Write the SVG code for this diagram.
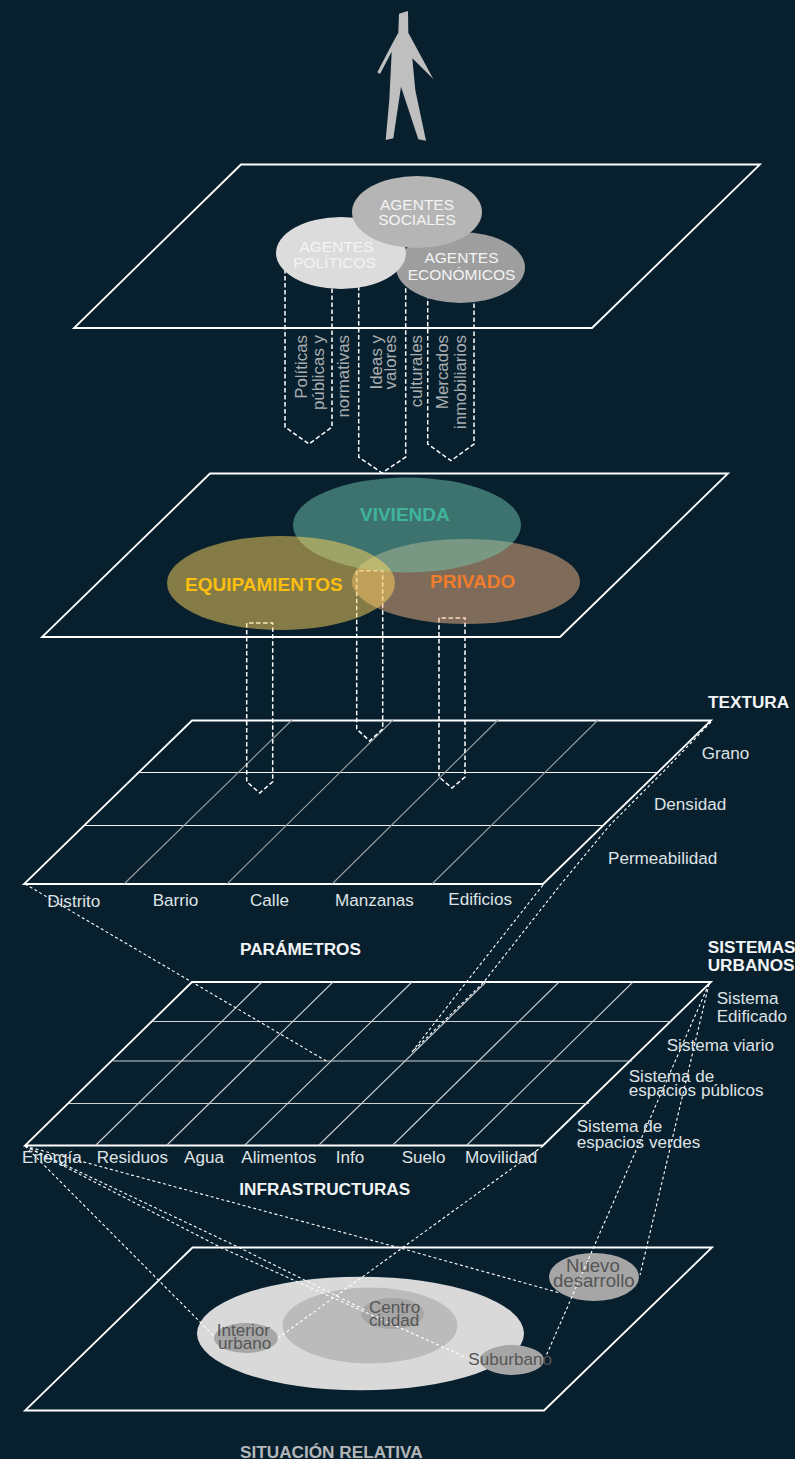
<svg xmlns="http://www.w3.org/2000/svg" width="795" height="1459" viewBox="0 0 795 1459">
<style>
text{font-family:"Liberation Sans",Arial,sans-serif}
.plane{fill:none;stroke:#fff;stroke-width:1.8;stroke-linejoin:miter}
.h{stroke:#f4f4f4;stroke-width:1.2;fill:none}
.h4{stroke:#cfd2d3;stroke-width:1.2;fill:none}
.d3{stroke:#9a9fa2;stroke-width:1.1;fill:none}
.d4{stroke:#cbcfd1;stroke-width:1.1;fill:none}
.arrow{fill:none;stroke:#fff;stroke-width:1.5;stroke-dasharray:4.5 2.5}
.thin{fill:none;stroke:#fff;stroke-width:1.1;stroke-dasharray:3 2.5}
.lab{font-size:17.1px;fill:#dfe3e5}
.head{font-size:17.2px;font-weight:bold;fill:#f2f4f5}
.rot{font-size:16.9px;fill:#a9aeb1;text-anchor:end}
.ag{font-size:15.5px;fill:#f4f4f4;text-anchor:middle}
.big{font-size:19px;font-weight:bold}
.sit{font-size:17.1px;fill:#555}
</style>
<rect width="795" height="1459" fill="#08202e"/>
<g id="persona"><polygon points="399,13.7 408,11 408.3,32.7 433.3,79 412.3,58.3 415.3,90 426,140.7 418.3,139.3 401,86.7 393.3,138.3 385.7,140 389.3,100 391.7,51.7 380,74 377.3,72.3 393.3,41.7 398.3,32.7" fill="#bfbfbf"/></g>
<g id="plano-agentes"><polygon class="plane" points="241,164.500 760,164.500 592,328 74,328"/></g>
<g id="plano-usos"><polygon class="plane" points="210,473.500 728,473.500 560,637 42,637"/></g>
<g id="plano-textura">
<polygon class="plane" points="192,720.500 711,720.500 543,884 24,884"/>
<path class="h" d="M137,772.500H657M84,825.500H604"/>
<path class="d3" d="M124,884L292,720M227,884L393,720M332,884L498,720M432,884L598,720"/>
</g>
<g id="plano-sistemas">
<polygon class="plane" points="192,982 711,982 543,1145.500 25,1145.500"/>
<path class="h4" d="M153,1021.500H672M113,1061H632M69,1103.500H589"/>
<path class="d4" d="M96,1145L262,982M167,1145L333,982M245,1145L412,982M319,1145L486,982M393,1145L559,982M467,1145L633,982"/>
</g>
<g id="plano-situacion"><polygon class="plane" points="192.500,1247.500 712,1247.500 544,1410.500 25,1410.500"/></g>
<g id="ciudad">
<ellipse cx="360.500" cy="1333.500" rx="163.500" ry="56.800" fill="#d9d9d9"/>
<ellipse cx="370" cy="1325.500" rx="87.500" ry="38" fill="#bbbbbb"/>
</g>
<g id="centro"><ellipse cx="392.500" cy="1313.500" rx="31.500" ry="15.500" fill="#a6a6a6"/></g>
<g id="interior"><ellipse cx="246" cy="1338" rx="32" ry="15" fill="#a6a6a6"/></g>
<g id="suburbano"><ellipse cx="512" cy="1360" rx="32" ry="15" fill="#a6a6a6"/></g>
<g id="nuevo"><ellipse cx="594" cy="1277" rx="45" ry="24" fill="#a6a6a6"/></g>
<g id="connectors">
<path class="arrow" d="M285,262V427L309,444L332,427V262Z"/>
<path class="arrow" d="M358.700,265V457L382,473L405.700,457V265Z"/>
<path class="arrow" d="M427.700,280V444L451,460.700L474,444V280Z"/>
<path class="arrow" d="M246.700,623V781.700L259.700,793L272.700,781.700V623Z"/>
<path class="arrow" d="M356.700,570.700V729L369.700,741L382.700,729V570.700Z"/>
<path class="arrow" d="M439,618V777L452,788L465,777V618Z"/>
<path class="thin" d="M25,884L328,1062"/>
<path class="thin" d="M543,885L468,980L412,1052"/>
<path class="thin" d="M711,722L663,772L610,825L561,884L483,983L412,1052"/>
<path class="thin" d="M25,1146L215,1337"/>
<path class="thin" d="M25,1146L220,1247L467,1358"/>
<path class="thin" d="M25,1146L238,1247L367,1311"/>
<path class="thin" d="M25,1146L400,1248L560,1293"/>
<path class="thin" d="M709,984L640,1275"/>
<path class="thin" d="M709,984L546,1356"/>
<path class="thin" d="M543,1146L278,1338"/>
</g>
<g id="agentes-economicos"><ellipse cx="460.500" cy="267.500" rx="64.500" ry="35.500" fill="#9e9e9e"/><text class="ag" x="461.500" y="262.500">AGENTES</text><text class="ag" x="461.500" y="279.500">ECONÓMICOS</text></g>
<g id="agentes-politicos"><ellipse cx="341" cy="253" rx="65" ry="36" fill="#dcdcdc"/><text class="ag" x="336.500" y="252">AGENTES</text><text class="ag" x="334.500" y="267.500">POLÍTICOS</text></g>
<g id="agentes-sociales"><ellipse cx="417" cy="212" rx="65" ry="36" fill="#b5b5b5"/><text class="ag" x="417" y="210">AGENTES</text><text class="ag" x="417" y="225">SOCIALES</text></g>
<g id="privado"><ellipse cx="466" cy="581.500" rx="114" ry="42.500" fill="rgb(245,181,132)" fill-opacity=".5"/></g>
<g id="vivienda"><ellipse cx="407" cy="525" rx="114" ry="47.500" fill="rgb(113,197,176)" fill-opacity=".5"/></g>
<g id="equipamientos"><ellipse cx="281" cy="583" rx="114" ry="47" fill="rgb(255,213,94)" fill-opacity=".5"/></g>
<text class="big" x="360" y="521" fill="#3fb39b">VIVIENDA</text>
<text class="big" x="185" y="590.700" fill="#fdbf0f">EQUIPAMIENTOS</text>
<text class="big" x="430" y="588" fill="#f07d2c">PRIVADO</text>
<g id="etiquetas-flechas">
<text class="rot" transform="translate(306.700,335) rotate(-90)">Políticas</text>
<text class="rot" transform="translate(323.500,335) rotate(-90)">públicas y</text>
<text class="rot" transform="translate(349.300,335) rotate(-90)">normativas</text>
<text class="rot" transform="translate(381.700,335) rotate(-90)">Ideas y</text>
<text class="rot" transform="translate(396,335) rotate(-90)">valores</text>
<text class="rot" transform="translate(422.300,335) rotate(-90)">culturales</text>
<text class="rot" transform="translate(448.300,335) rotate(-90)">Mercados</text>
<text class="rot" transform="translate(465.700,335) rotate(-90)">inmobiliarios</text>
</g>
<g id="etiquetas-textura">
<text class="head" x="708" y="708">TEXTURA</text>
<text class="lab" x="701.700" y="759.300">Grano</text>
<text class="lab" x="654" y="810">Densidad</text>
<text class="lab" x="608" y="864">Permeabilidad</text>
<text class="lab" x="47.200" y="906.700">Distrito</text>
<text class="lab" x="152.700" y="905.700">Barrio</text>
<text class="lab" x="250" y="905.700">Calle</text>
<text class="lab" x="335" y="906">Manzanas</text>
<text class="lab" x="448.300" y="905">Edificios</text>
<text class="head" x="240" y="955">PARÁMETROS</text>
</g>
<g id="etiquetas-sistemas">
<text class="head" x="707.700" y="953.300">SISTEMAS</text>
<text class="head" x="707.700" y="970.700">URBANOS</text>
<text class="lab" x="716.700" y="1004">Sistema</text>
<text class="lab" x="716.700" y="1021.700">Edificado</text>
<text class="lab" x="666.700" y="1050.700">Sistema viario</text>
<text class="lab" x="628.700" y="1082">Sistema de</text>
<text class="lab" x="628.700" y="1095.700">espacios públicos</text>
<text class="lab" x="576.700" y="1131.700">Sistema de</text>
<text class="lab" x="576.700" y="1148.300">espacios verdes</text>
<text class="lab" x="22" y="1162.700">Energía</text>
<text class="lab" x="96.700" y="1162.700">Residuos</text>
<text class="lab" x="184" y="1162.700">Agua</text>
<text class="lab" x="241.300" y="1162.700">Alimentos</text>
<text class="lab" x="335.700" y="1162.700">Info</text>
<text class="lab" x="401.700" y="1162.700">Suelo</text>
<text class="lab" x="465" y="1162.700">Movilidad</text>
<text class="head" x="239.300" y="1195">INFRASTRUCTURAS</text>
</g>
<g id="etiquetas-situacion">
<text class="sit" x="216.700" y="1336">Interior</text>
<text class="sit" x="218" y="1349.300">urbano</text>
<text class="sit" x="369" y="1312.700">Centro</text>
<text class="sit" x="369" y="1326">ciudad</text>
<text class="sit" x="468.300" y="1365">Suburbano</text>
<text class="sit" x="566" y="1271.700" style="font-size:18.6px">Nuevo</text>
<text class="sit" x="553" y="1286.700" style="font-size:18.6px">desarrollo</text>
<text class="head" x="240" y="1458" style="fill:#b5b8ba">SITUACIÓN RELATIVA</text>
</g>
</svg>
